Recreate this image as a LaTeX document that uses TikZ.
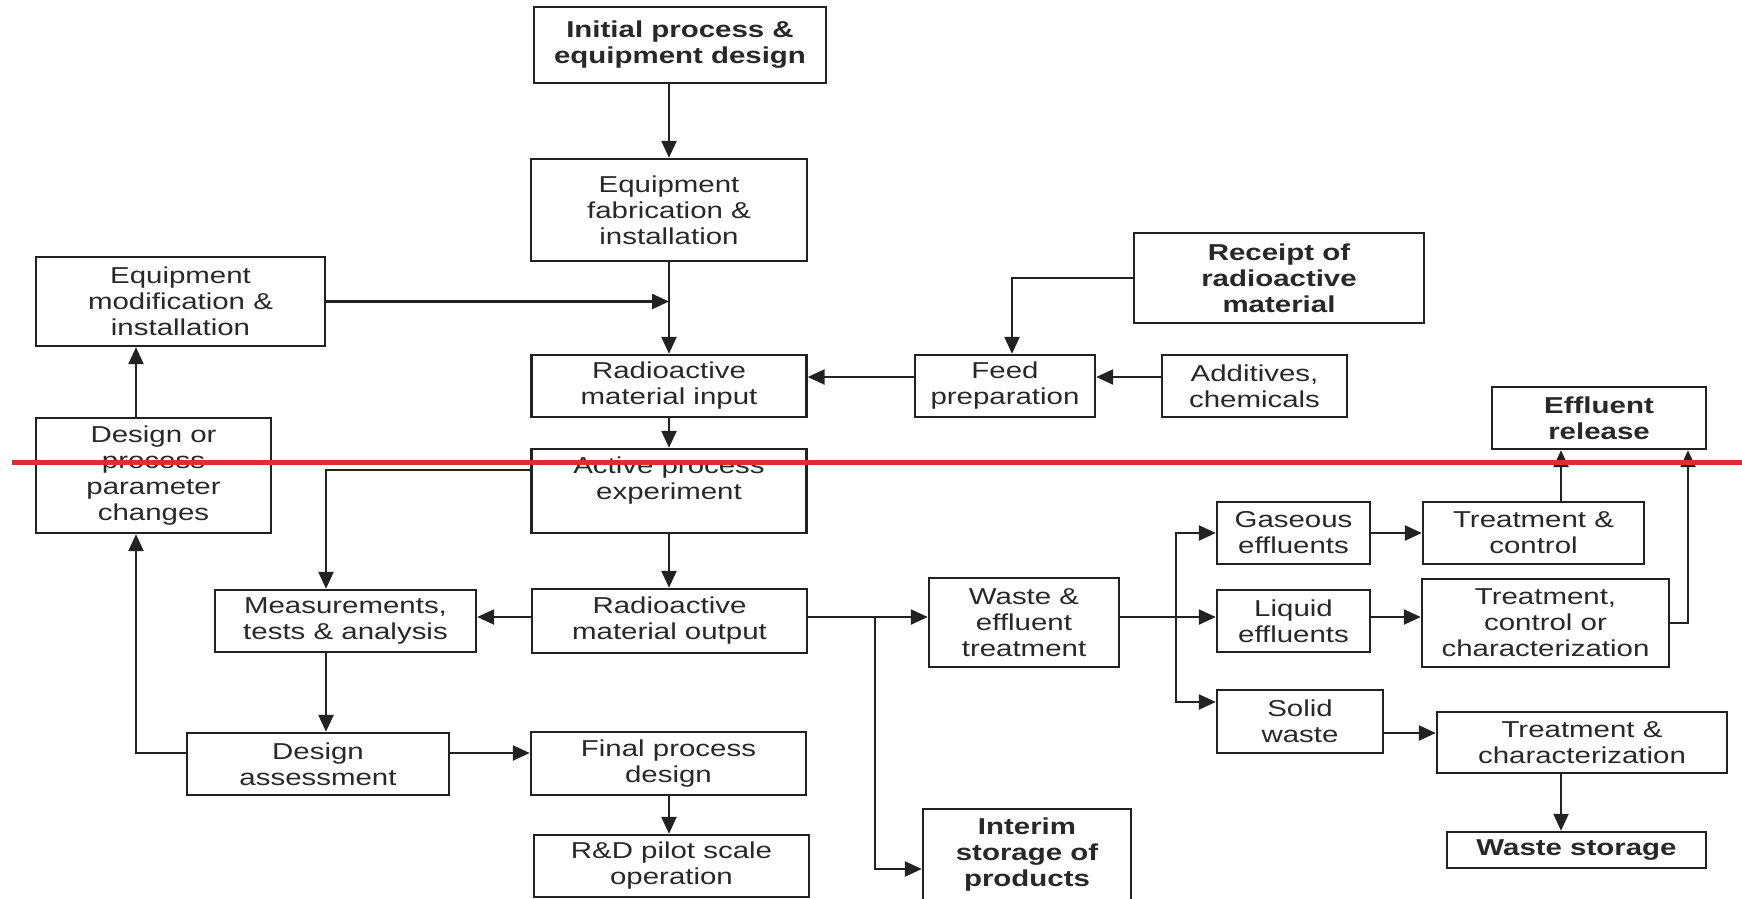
\documentclass[tikz,border=0pt]{standalone}
\usepackage{fontspec}
\setmainfont{Liberation Sans}[FakeStretch=1.28]
\usepackage{tikz}
\usetikzlibrary{arrows.meta}

\definecolor{linec}{RGB}{34,34,34}
\definecolor{textc}{RGB}{40,40,40}
\definecolor{markred}{RGB}{214,50,54}

\tikzset{
  box/.style={draw=linec, line width=2.4pt, text=textc, align=center, inner sep=0pt,
    font=\fontsize{23}{26}\selectfont},
  boldbox/.style={box, font=\bfseries\fontsize{23}{26}\selectfont},
  link/.style={draw=linec, line width=2.4pt},
  arr/.style={link, -{Triangle[length=17pt,width=15pt]}}
}

\begin{document}
\begin{tikzpicture}[x=1pt, y=-1pt]
  \clip (0,0) rectangle (1742,898);
  \fill[white] (0,0) rectangle (1742,898);

  % left and central column
  \node[boldbox, minimum width=292, minimum height=76] (init) at (680,45) {Initial process \&\\equipment design};
  \node[box, minimum width=276, minimum height=102] (fab) at (669,210) {Equipment\\fabrication \&\\installation};
  \node[box, minimum width=289, minimum height=89] (mod) at (180.5,301.5) {Equipment\\modification \&\\installation};
  \node[box, minimum width=275, minimum height=62] (input) at (669,386) {Radioactive\\material input};
  \node[box, minimum width=235, minimum height=115] (param) at (153.5,475.5) {Design or\\process\\parameter\\changes};
  \node[box, minimum width=275, minimum height=84] (active) at (669,491) {Active process\\experiment\\\mbox{}};
  \node[box, minimum width=261, minimum height=62] (meas) at (345.5,621) {Measurements,\\tests \& analysis};
  \node[box, minimum width=275, minimum height=64] (output) at (669.5,621) {Radioactive\\material output};
  \node[box, minimum width=262, minimum height=62] (assess) at (318,764) {Design\\assessment};
  \node[box, minimum width=275, minimum height=63] (final) at (668.5,763.5) {Final process\\design};
  \node[box, minimum width=275, minimum height=62] (pilot) at (671.5,866) {R\&D pilot scale\\operation};

  % feed side
  \node[boldbox, minimum width=290, minimum height=90] (receipt) at (1279,278) {Receipt of\\radioactive\\material};
  \node[box, minimum width=180, minimum height=62] (feed) at (1005,386) {Feed\\preparation};
  \node[box, minimum width=185, minimum height=62] (additives) at (1254.5,386) {Additives,\\chemicals};

  % waste side
  \node[box, minimum width=190, minimum height=89] (waste) at (1024,622.5) {Waste \&\\effluent\\treatment};
  \node[boldbox, minimum width=208, minimum height=92] (interim) at (1027,855) {Interim\\storage of\\products};
  \node[box, minimum width=153, minimum height=62] (gas) at (1293.5,533) {Gaseous\\effluents};
  \node[box, minimum width=153, minimum height=62] (liquid) at (1293.5,621) {Liquid\\effluents};
  \node[box, minimum width=166, minimum height=63] (solid) at (1300,721.5) {Solid\\waste};
  \node[box, minimum width=221, minimum height=62] (tc) at (1533.5,533) {Treatment \&\\control};
  \node[box, minimum width=247, minimum height=88] (tcc) at (1545.5,623) {Treatment,\\control or\\characterization};
  \node[box, minimum width=290, minimum height=61] (tch) at (1582,742.5) {Treatment \&\\characterization};
  \node[boldbox, minimum width=214, minimum height=62] (release) at (1599,418) {Effluent\\release};
  \node[boldbox, minimum width=259, minimum height=36] (storage) at (1576.5,850) {Waste storage};

  % columns and rows of the connectors
  \coordinate (cmid) at (669,0);
  \coordinate (cmeas) at (326,0);
  \coordinate (cparam) at (136,0);
  \coordinate (cfeed) at (1012,0);
  \coordinate (cout) at (875,0);
  \coordinate (cwaste) at (1176,0);
  \coordinate (crel) at (1561,0);
  \coordinate (crel2) at (1688,0);
  \coordinate (rfeed) at (0,377);
  \coordinate (ract) at (0,470);
  \coordinate (rout) at (0,617);
  \coordinate (rass) at (0,753);
  \coordinate (rint) at (0,869);
  \coordinate (rsol) at (0,702);
  \coordinate (rsol2) at (0,733);

  \draw[arr] (init.south -| cmid) -- (fab.north -| cmid);
  \draw[arr] (fab.south -| cmid) -- (input.north -| cmid);
  \draw[arr] (mod.east) -- (cmid |- mod.east);
  \draw[arr] (receipt.west) -| (feed.north -| cfeed);
  \draw[arr] (additives.west |- rfeed) -- (feed.east |- rfeed);
  \draw[arr] (feed.west |- rfeed) -- (input.east |- rfeed);
  \draw[arr] (input.south -| cmid) -- (active.north -| cmid);
  \draw[arr] (active.west |- ract) -| (meas.north -| cmeas);
  \draw[arr] (active.south -| cmid) -- (output.north -| cmid);
  \draw[arr] (output.west |- rout) -- (meas.east |- rout);
  \draw[arr] (meas.south -| cmeas) -- (assess.north -| cmeas);
  \draw[arr] (assess.west |- rass) -| (param.south -| cparam);
  \draw[arr] (param.north -| cparam) -- (mod.south -| cparam);
  \draw[arr] (assess.east |- rass) -- (final.west |- rass);
  \draw[arr] (final.south -| cmid) -- (pilot.north -| cmid);

  \draw[arr] (output.east |- rout) -- (waste.west |- rout);
  \draw[arr] (cout |- rout) |- (interim.west |- rint);
  \draw[arr] (waste.east |- rout) -- (liquid.west |- rout);
  \draw[arr] (cwaste |- rout) |- (gas.west);
  \draw[arr] (cwaste |- rout) |- (solid.west |- rsol);
  \draw[arr] (gas.east) -- (tc.west);
  \draw[arr] (liquid.east |- rout) -- (tcc.west |- rout);
  \draw[arr] (solid.east |- rsol2) -- (tch.west |- rsol2);
  \draw[arr] (tc.north -| crel) -- (release.south -| crel);
  \draw[arr] (tcc.east) -| (release.south -| crel2);
  \draw[arr] (tch.south -| crel) -- (storage.north -| crel);

  % red mark across the page
  \draw[markred, line width=5pt] (12,462) -- (1742,462);
\end{tikzpicture}
\end{document}
